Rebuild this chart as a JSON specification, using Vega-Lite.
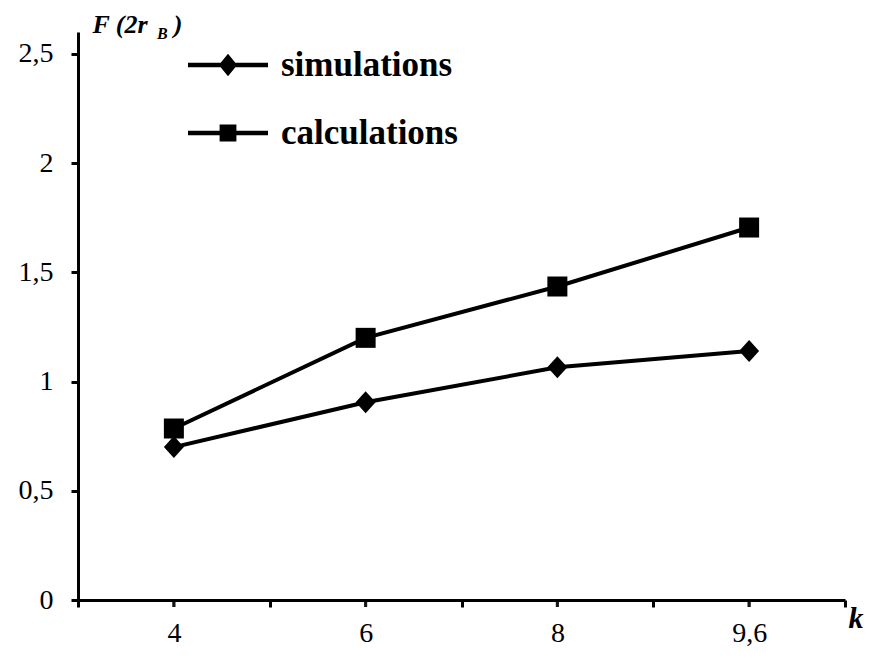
{
  "$schema": "https://vega.github.io/schema/vega-lite/v6.json",
  "autosize": "none",
  "width": 767,
  "height": 568,
  "padding": {"left": 78, "top": 32, "right": 26, "bottom": 60},
  "background": "white",
  "title": {"text": "B", "anchor": "start", "frame": "group", "orient": "top", "offset": 0, "dx": 79, "dy": 44,
            "baseline": "alphabetic", "font": "Liberation Serif", "fontSize": 16, "fontWeight": "bold", "fontStyle": "italic", "color": "black"},
  "config": {
    "view": {"stroke": null},
    "font": "Liberation Serif",
    "axis": {"grid": false, "domainColor": "black", "tickColor": "black", "labelColor": "black", "titleColor": "black", "labelFont": "Liberation Serif", "titleFont": "Liberation Serif"}
  },
  "data": {
    "values": [
      {"k": "4", "series": "simulations", "F": 0.70},
      {"k": "6", "series": "simulations", "F": 0.905},
      {"k": "8", "series": "simulations", "F": 1.065},
      {"k": "9,6", "series": "simulations", "F": 1.14},
      {"k": "4", "series": "calculations", "F": 0.785},
      {"k": "6", "series": "calculations", "F": 1.20},
      {"k": "8", "series": "calculations", "F": 1.435},
      {"k": "9,6", "series": "calculations", "F": 1.705}
    ]
  },
  "encoding": {
    "x": {"field": "k", "type": "ordinal", "sort": ["4", "6", "8", "9,6"],
          "scale": {"type": "band", "paddingInner": 0, "paddingOuter": 0},
          "axis": {"orient": "bottom", "title": "k", "titleFontSize": 30, "titleFontWeight": "bold", "titleFontStyle": "italic",
                   "titleX": 770, "titleY": 27, "titleAlign": "left", "titleBaseline": "alphabetic",
                   "labelFontSize": 28, "labelAngle": 0, "labelPadding": 12, "tickBand": "extent",
                   "domainWidth": 3, "tickWidth": 3, "tickSize": 7}},
    "y": {"field": "F", "type": "quantitative", "scale": {"domain": [0, 2.6], "nice": false},
          "axis": {"orient": "left", "values": [0, 0.5, 1, 1.5, 2, 2.5],
                   "labelExpr": "replace(toString(datum.value), '.', ',')",
                   "labelFontSize": 28, "labelPadding": 18, "domainWidth": 3, "tickWidth": 3, "tickSize": 7,
                   "title": "F (2r\u00a0\u00a0\u00a0\u00a0)", "titleFontSize": 26, "titleFontWeight": "bold", "titleFontStyle": "italic",
                   "titleAngle": 0, "titleX": 14, "titleY": 0, "titleAlign": "left", "titleBaseline": "alphabetic"}}
  },
  "layer": [
    {
      "mark": {"type": "tick", "orient": "vertical", "color": "black", "size": 7, "thickness": 3, "yOffset": 3.5},
      "encoding": {"y": {"datum": 0}}
    },
    {
      "mark": {"type": "line", "color": "black", "strokeWidth": 4},
      "encoding": {"detail": {"field": "series"}}
    },
    {
      "mark": {"type": "point", "filled": true, "color": "black", "opacity": 1, "size": 400},
      "encoding": {
        "shape": {"field": "series", "type": "nominal", "legend": null,
                  "scale": {"domain": ["simulations", "calculations"], "range": ["M0,-1.1L1,0L0,1.1L-1,0Z", "square"]}}
      }
    },
    {
      "mark": {"type": "point", "filled": true, "color": "black", "opacity": 0, "size": 6400},
      "encoding": {
        "shape": {"field": "series", "type": "nominal",
                  "scale": {"domain": ["simulations", "calculations"],
                            "range": ["M-1,-0.055L1,-0.055L1,0.055L-1,0.055ZM0,-0.28L0.23,0L0,0.28L-0.23,0Z",
                                      "M-1,-0.055L1,-0.055L1,0.055L-1,0.055ZM-0.21,-0.21L0.21,-0.21L0.21,0.21L-0.21,0.21Z"]},
                  "legend": {"orient": "none", "legendX": 110, "legendY": 1, "title": null,
                             "symbolSize": 6400, "symbolOpacity": 1, "symbolFillColor": "black", "symbolStrokeWidth": 0,
                             "labelFont": "Liberation Serif", "labelFontSize": 35, "labelFontWeight": "bold", "labelLimit": 400,
                             "labelColor": "black", "labelOffset": 13, "rowPadding": 4, "clipHeight": 64,
                             "encode": {"symbols": {"update": {"fill": {"value": "black"}, "opacity": {"value": 1}, "fillOpacity": {"value": 1}}}}}}
      }
    }
  ],
  "resolve": {"scale": {"shape": "independent"}}
}
